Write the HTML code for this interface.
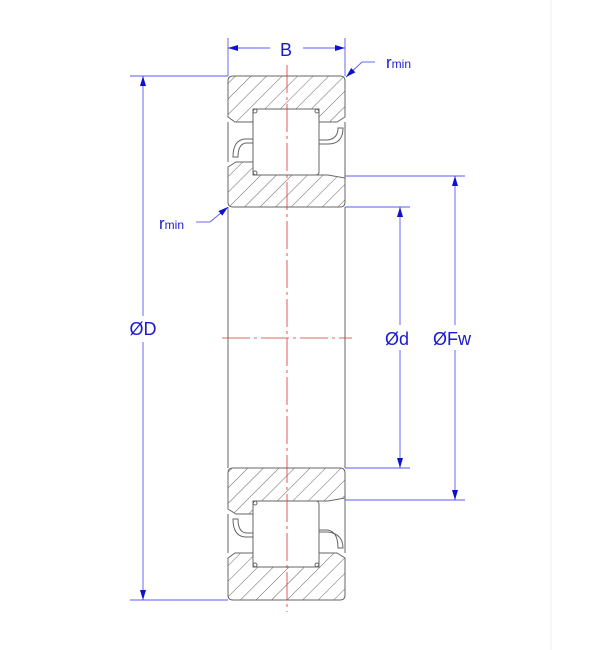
<!DOCTYPE html>
<html><head><style>
html,body{margin:0;padding:0;background:#fff;}
svg{display:block;}
text{font-family:"Liberation Sans",Arial,sans-serif;fill:#1a1ad0;}
</style></head><body>
<svg width="602" height="650" viewBox="0 0 602 650" xmlns="http://www.w3.org/2000/svg">
<defs>
<pattern id="h" patternUnits="userSpaceOnUse" width="11" height="11" patternTransform="rotate(45)">
<line x1="0" y1="0" x2="0" y2="11" stroke="#666" stroke-width="1"/>
</pattern>
<marker id="a" viewBox="0 0 10 6" refX="10" refY="3" markerWidth="10" markerHeight="6" markerUnits="userSpaceOnUse" orient="auto-start-reverse">
<path d="M0,0 L10,3 L0,6 Z" fill="#1010d0"/>
</marker>
</defs>
<line x1="551" y1="0" x2="551" y2="650" stroke="#eee" stroke-width="1"/>
<g stroke="#666" stroke-width="1" fill="url(#h)">
<path d="M233,76 L340,76 Q345,76 345,81 L345,117 L337,122 L319,122 L319,109 L253,109 L253,122 L235,122 L228,117 L228,81 Q228,76 233,76 Z"/>
<path d="M228,167 L236,162 L253,162 L253,175 L328,175 L345,178 L345,202 Q345,207 340,207 L233,207 Q228,207 228,202 Z"/>
<path d="M233,468 L340,468 Q345,468 345,473 L345,498 L328,501 L253,501 L253,514 L236,514 L228,509 L228,473 Q228,468 233,468 Z"/>
<path d="M235,553 L253,553 L253,567 L319,567 L319,553 L337,553 L345,558 L345,595 Q345,600 340,600 L233,600 Q228,600 228,595 L228,558 Z"/>
</g>
<g stroke="#666" stroke-width="1" fill="#fff">
<rect x="253" y="109" width="66" height="66" rx="3"/>
<rect x="253" y="501" width="66" height="66" rx="3"/>
</g>
<g stroke="#666" stroke-width="1" fill="none">
<line x1="228" y1="122" x2="228" y2="162"/>
<line x1="345" y1="122" x2="345" y2="178"/>
<line x1="228" y1="207" x2="228" y2="468"/>
<line x1="345" y1="207" x2="345" y2="468"/>
<line x1="228" y1="514" x2="228" y2="553"/>
<line x1="345" y1="498" x2="345" y2="553"/>
<circle cx="255" cy="111" r="2"/><circle cx="317" cy="111" r="2"/>
<circle cx="255" cy="173" r="2"/>
<circle cx="255" cy="503" r="2"/><circle cx="317" cy="565" r="2"/><circle cx="255" cy="565" r="2"/>
<path d="M253,139 L245,139 Q233,140 233,157 L238,157 Q238,144 246,143 L253,143"/>
<path d="M319,140 L327,140 Q338,139 338,128 L343,128 Q343,144 328,144 L319,144"/>
<path d="M253,537 L245,537 Q233,536 233,519 L238,519 Q238,532 246,533 L253,533"/>
<path d="M319,530 L327,530 Q338,531 338,548 L343,548 Q343,534 328,532 L319,532"/>
</g>
<g stroke="#e03030" stroke-width="0.8" fill="none" stroke-dasharray="28,4,3,4">
<line x1="287" y1="65" x2="287" y2="612"/>
<line x1="222" y1="338" x2="352" y2="338"/>
</g>
<g stroke="#5a5af0" stroke-width="0.9" fill="none">
<line x1="228" y1="38" x2="228" y2="76"/>
<line x1="345" y1="38" x2="345" y2="76"/>
<line x1="228" y1="48" x2="270" y2="48" marker-start="url(#a)"/>
<line x1="303" y1="48" x2="345" y2="48" marker-end="url(#a)"/>
<line x1="130" y1="76" x2="228" y2="76"/>
<line x1="130" y1="600" x2="228" y2="600"/>
<line x1="143" y1="76" x2="143" y2="316" marker-start="url(#a)"/>
<line x1="143" y1="342" x2="143" y2="600" marker-end="url(#a)"/>
<line x1="345" y1="207" x2="410" y2="207"/>
<line x1="345" y1="468" x2="410" y2="468"/>
<line x1="400" y1="207" x2="400" y2="325" marker-start="url(#a)"/>
<line x1="400" y1="350" x2="400" y2="468" marker-end="url(#a)"/>
<line x1="345" y1="176" x2="465" y2="176"/>
<line x1="345" y1="500" x2="465" y2="500"/>
<line x1="455" y1="176" x2="455" y2="325" marker-start="url(#a)"/>
<line x1="455" y1="350" x2="455" y2="500" marker-end="url(#a)"/>
<line x1="375" y1="62" x2="362" y2="62"/>
<line x1="362" y1="62" x2="346" y2="77" marker-end="url(#a)"/>
<line x1="196" y1="222" x2="210" y2="222"/>
<line x1="210" y1="222" x2="228" y2="207" marker-end="url(#a)"/>
</g>
<text x="286" y="56" font-size="18" text-anchor="middle">B</text>
<text x="386" y="68" font-size="17">r<tspan font-size="12">min</tspan></text>
<text x="159" y="229" font-size="17">r<tspan font-size="12">min</tspan></text>
<text x="143" y="335" font-size="18" text-anchor="middle">ØD</text>
<text x="397" y="345" font-size="18" text-anchor="middle">Ød</text>
<text x="452" y="345" font-size="18" text-anchor="middle">ØFw</text>
</svg>
</body></html>
